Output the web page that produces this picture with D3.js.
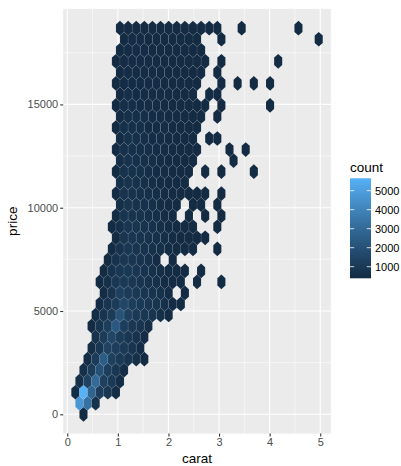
<!DOCTYPE html>
<html>
<head>
<meta charset="utf-8">
<script src="https://cdn.jsdelivr.net/npm/d3@7"></script>
<style>
  body { margin: 0; background: #fff; }
  svg { display: block; font-family: "Liberation Sans", Arial, sans-serif; }
</style>
</head>
<body>
<div id="chart"></div>
<script>
// hex bin size (carat, price), bins = 30 over the data range
const binX = 4.81 / 30;
const binY = 18497 / 30;

// first half-column index of every hex row (row 0 = price 0)
const rowStart = [
  4, 3, 2, 3, 4, 5, 6, 7, 6, 7, 8, 9,
  8, 9, 10, 11, 12, 11, 12, 13, 12, 13, 12, 13,
  12, 13, 12, 13, 12, 13, 12, 13, 12, 13, 14, 13
];

// counts per hex along each row, step of one full column; 0 = empty cell
const rowCounts = [
  [250],
  [4700, 3300, 700],
  [500, 5650, 2800, 1200, 900, 500],
  [600, 1400, 3000, 1300, 1000, 500],
  [600, 1200, 2000, 1200, 900, 500],
  [500, 1100, 2500, 1300, 1000, 800, 600, 350],
  [550, 900, 1400, 1200, 1000, 800, 500],
  [700, 1100, 1500, 1100, 900, 700, 450],
  [400, 800, 1200, 2300, 1200, 900, 800, 550],
  [500, 800, 1100, 2100, 1300, 1000, 900, 800, 600, 350],
  [450, 800, 1100, 1500, 1200, 1000, 900, 800, 650, 450, 200],
  [450, 800, 1300, 1100, 950, 850, 750, 650, 450, 0, 60],
  [300, 600, 900, 1000, 900, 800, 700, 650, 500, 300, 120, 0, 30, 0, 0, 5],
  [300, 700, 900, 950, 850, 750, 650, 550, 400, 200, 60, 0, 10],
  [350, 700, 900, 850, 750, 650, 450, 0, 50],
  [300, 750, 900, 800, 700, 650, 600, 500, 350, 200, 60, 0, 0, 5],
  [400, 800, 850, 750, 700, 600, 550, 450, 300, 150, 40, 15],
  [100, 600, 850, 800, 700, 650, 550, 500, 350, 200, 50, 0, 0, 5],
  [500, 800, 750, 700, 600, 550, 450, 250, 0, 40, 0, 10, 0, 3],
  [600, 800, 700, 650, 600, 500, 400, 200, 0, 40, 20, 0, 5],
  [450, 750, 700, 650, 600, 550, 450, 350, 200, 100, 40, 15, 0, 5],
  [600, 750, 650, 600, 550, 500, 400, 250, 80],
  [400, 700, 650, 600, 550, 500, 450, 350, 200, 50, 0, 10, 0, 5, 0, 0, 0, 2],
  [550, 700, 600, 600, 550, 500, 400, 300, 150, 40, 0, 0, 0, 0, 2],
  [300, 650, 600, 550, 550, 500, 450, 350, 250, 120, 30, 0, 0, 0, 3, 0, 2],
  [500, 650, 600, 550, 500, 450, 400, 300, 150, 40, 0, 10, 5],
  [250, 600, 600, 550, 500, 500, 450, 350, 250, 120, 30],
  [450, 600, 550, 550, 500, 450, 400, 300, 200, 100, 20, 0, 5],
  [200, 550, 550, 500, 500, 450, 400, 350, 250, 150, 60, 15, 0, 5, 0, 0, 0, 0, 0, 2],
  [400, 550, 500, 500, 450, 450, 350, 250, 150, 50, 0, 10, 5],
  [150, 500, 500, 500, 450, 450, 400, 300, 200, 100, 30, 0, 0, 5, 0, 2, 0, 2, 0, 2],
  [350, 500, 500, 450, 450, 400, 350, 250, 150, 80, 20, 0, 5],
  [100, 450, 450, 450, 450, 400, 350, 300, 200, 120, 50, 10, 0, 5, 0, 0, 0, 0, 0, 0, 2],
  [300, 450, 450, 450, 400, 400, 300, 250, 150, 80, 20],
  [400, 450, 450, 400, 400, 350, 300, 200, 100, 40, 0, 0, 3, 0, 0, 0, 0, 0, 0, 0, 0, 0, 0, 0, 1],
  [150, 400, 400, 400, 350, 350, 300, 250, 200, 120, 60, 20, 5, 0, 0, 2, 0, 0, 0, 0, 0, 0, 1]
];

const xTicks = [0, 1, 2, 3, 4, 5];
const xMinor = [0.5, 1.5, 2.5, 3.5, 4.5];
const yTicks = [0, 5000, 10000, 15000];
const yMinor = [2500, 7500, 12500, 17500];
const countTicks = [1000, 2000, 3000, 4000, 5000];
const countRange = [390, 5650];

const width = 401;
const height = 466;
const panel = { left: 63.2, right: 330.9, top: 8.9, bottom: 433.6 };

const hexes = [];
rowCounts.forEach((counts, i) => {
  counts.forEach((c, n) => {
    if (c > 0) {
      hexes.push({
        carat: ((rowStart[i] + 2 * n) * binX) / 2,
        price: (i * binY * Math.sqrt(3)) / 2,
        count: c
      });
    }
  });
});

function expand(ext) {
  const pad = (ext[1] - ext[0]) * 0.05;
  return [ext[0] - pad, ext[1] + pad];
}

const x = d3
  .scaleLinear()
  .domain(expand(d3.extent(hexes, (d) => d.carat)))
  .range([panel.left, panel.right]);

const y = d3
  .scaleLinear()
  .domain(expand(d3.extent(hexes, (d) => d.price)))
  .range([panel.bottom, panel.top]);

const colour = d3
  .scaleLinear()
  .domain(countRange)
  .range(["#132B43", "#56B1F7"])
  .interpolate(d3.interpolateLab)
  .clamp(true);

const svg = d3
  .select("#chart")
  .append("svg")
  .attr("width", width)
  .attr("height", height);

// panel
svg
  .append("rect")
  .attr("x", panel.left)
  .attr("y", panel.top)
  .attr("width", panel.right - panel.left)
  .attr("height", panel.bottom - panel.top)
  .attr("fill", "#EBEBEB");

const grid = svg.append("g").attr("stroke", "#fff").attr("fill", "none");
grid
  .selectAll("line.xminor")
  .data(xMinor)
  .enter()
  .append("line")
  .attr("x1", (d) => x(d))
  .attr("x2", (d) => x(d))
  .attr("y1", panel.top)
  .attr("y2", panel.bottom)
  .attr("stroke-width", 0.55);
grid
  .selectAll("line.yminor")
  .data(yMinor)
  .enter()
  .append("line")
  .attr("x1", panel.left)
  .attr("x2", panel.right)
  .attr("y1", (d) => y(d))
  .attr("y2", (d) => y(d))
  .attr("stroke-width", 0.55);
grid
  .selectAll("line.xmajor")
  .data(xTicks)
  .enter()
  .append("line")
  .attr("x1", (d) => x(d))
  .attr("x2", (d) => x(d))
  .attr("y1", panel.top)
  .attr("y2", panel.bottom)
  .attr("stroke-width", 1.1);
grid
  .selectAll("line.ymajor")
  .data(yTicks)
  .enter()
  .append("line")
  .attr("x1", panel.left)
  .attr("x2", panel.right)
  .attr("y1", (d) => y(d))
  .attr("y2", (d) => y(d))
  .attr("stroke-width", 1.1);

// hexagons
const hdx = binX / 2;
const hdy = binY / Math.sqrt(3) / 2;
const hexPath = (d) => {
  const pts = [
    [d.carat + hdx, d.price + hdy],
    [d.carat, d.price + 2 * hdy],
    [d.carat - hdx, d.price + hdy],
    [d.carat - hdx, d.price - hdy],
    [d.carat, d.price - 2 * hdy],
    [d.carat + hdx, d.price - hdy]
  ];
  return "M" + pts.map((p) => x(p[0]) + "," + y(p[1])).join("L") + "Z";
};

svg
  .append("g")
  .selectAll("path")
  .data(hexes)
  .enter()
  .append("path")
  .attr("d", hexPath)
  .attr("fill", (d) => colour(d.count))
  .attr("stroke", "#ffffff")
  .attr("stroke-opacity", 0.13)
  .attr("stroke-width", 0.5);

// axes
const xAxis = svg
  .append("g")
  .attr("transform", `translate(0,${panel.bottom})`)
  .call(d3.axisBottom(x).tickValues(xTicks).tickFormat(d3.format("d")).tickSize(3).tickPadding(2));
const yAxis = svg
  .append("g")
  .attr("transform", `translate(${panel.left},0)`)
  .call(d3.axisLeft(y).tickValues(yTicks).tickFormat(d3.format("d")).tickSize(3).tickPadding(2));
[xAxis, yAxis].forEach((a) => {
  a.select(".domain").remove();
  a.selectAll(".tick line").attr("stroke", "#333333").attr("stroke-width", 1.1);
  a.selectAll(".tick text")
    .attr("fill", "#4D4D4D")
    .style("font-size", "11px")
    .style("font-family", '"Liberation Sans", Arial, sans-serif');
});

svg
  .append("text")
  .attr("x", (panel.left + panel.right) / 2)
  .attr("y", 463)
  .attr("text-anchor", "middle")
  .style("font-size", "13.5px")
  .text("carat");

svg
  .append("text")
  .attr("transform", `translate(17,${(panel.top + panel.bottom) / 2}) rotate(-90)`)
  .attr("text-anchor", "middle")
  .style("font-size", "13.5px")
  .text("price");

// legend
const bar = { x: 350, w: 21, top: 178.3, bottom: 278.3 };
const ly = d3.scaleLinear().domain(countRange).range([bar.bottom, bar.top]);

const grad = svg
  .append("defs")
  .append("linearGradient")
  .attr("id", "countGrad")
  .attr("x1", 0)
  .attr("y1", 1)
  .attr("x2", 0)
  .attr("y2", 0);
grad
  .selectAll("stop")
  .data(d3.range(0, 1.0001, 0.1))
  .enter()
  .append("stop")
  .attr("offset", (t) => t)
  .attr("stop-color", (t) => colour(countRange[0] + t * (countRange[1] - countRange[0])));

svg
  .append("text")
  .attr("x", bar.x)
  .attr("y", 172)
  .style("font-size", "13.5px")
  .text("count");

svg
  .append("rect")
  .attr("x", bar.x)
  .attr("y", bar.top)
  .attr("width", bar.w)
  .attr("height", bar.bottom - bar.top)
  .attr("fill", "url(#countGrad)");

const lt = svg.append("g");
countTicks.forEach((v) => {
  lt.append("line")
    .attr("x1", bar.x)
    .attr("x2", bar.x + 4.2)
    .attr("y1", ly(v))
    .attr("y2", ly(v))
    .attr("stroke", "#fff")
    .attr("stroke-width", 0.8);
  lt.append("line")
    .attr("x1", bar.x + bar.w - 4.2)
    .attr("x2", bar.x + bar.w)
    .attr("y1", ly(v))
    .attr("y2", ly(v))
    .attr("stroke", "#fff")
    .attr("stroke-width", 0.8);
  lt.append("text")
    .attr("x", bar.x + bar.w + 4)
    .attr("y", ly(v))
    .attr("dy", "0.35em")
    .style("font-size", "11px")
    .text(v);
});
</script>
</body>
</html>
